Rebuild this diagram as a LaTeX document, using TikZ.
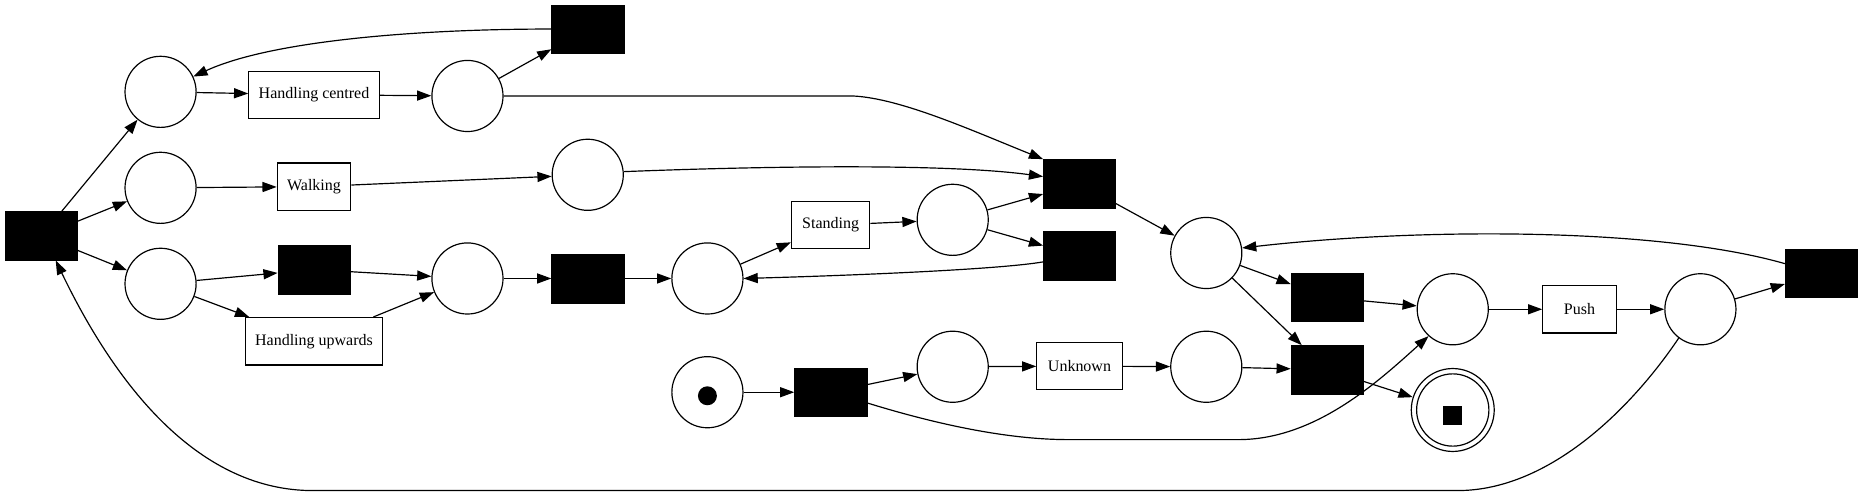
\documentclass[tikz,border=0pt]{standalone}
\usepackage{fontspec}
\setmainfont{Liberation Serif}
\usetikzlibrary{arrows.meta}
\begin{document}
\begin{tikzpicture}[x=1pt,y=-1pt,
  place/.style={circle,draw,line width=1pt,minimum size=60pt,inner sep=0pt},
  blk/.style={rectangle,fill=black,draw=black,minimum width=61pt,minimum height=41pt,inner sep=0pt},
  lab/.style={rectangle,draw,line width=1pt,minimum height=40pt,inner sep=0pt,font=\fontsize{13.5}{15}\selectfont},
  arc/.style={line width=1pt,-{Triangle[length=12pt,width=8.5pt]}},
]
\useasboundingbox (0,0) rectangle (1568,418.5);
% places
\node[place] (P1) at (135.5,77.5) {};
\node[place] (P2) at (135.5,158.5) {};
\node[place] (P3) at (135.5,239.5) {};
\node[place] (P4) at (394.5,81) {};
\node[place] (P5) at (496,147.5) {};
\node[place] (P6) at (394.5,235) {};
\node[place] (P7) at (597,235) {};
\node[place] (P8) at (804,185.5) {};
\node[place] (P9) at (1018,213.5) {};
\node[place] (P10) at (1226,261) {};
\node[place] (P11) at (1435,261) {};
\node[place] (P12) at (597,331) {};
\node[place] (P13) at (804,309.5) {};
\node[place] (P14) at (1018,309.5) {};
\node[place,minimum size=70pt] (Fin) at (1226,346) {};
\node[place,minimum size=61pt] (FinIn) at (1226,346) {};
\node[rectangle,fill=black,minimum size=16pt,inner sep=0pt] (FinTok) at (1226,351) {};
\node[circle,fill=black,minimum size=16pt,inner sep=0pt] (Tok) at (597,334) {};
% transitions
\node[blk] (T0) at (35,199) {};
\node[blk] (Ttop) at (496,24.5) {};
\node[lab,minimum width=110pt] (HC) at (265,80) {Handling centred};
\node[lab,minimum width=62pt] (W) at (265,157.5) {Walking};
\node[blk] (B1) at (265,227.5) {};
\node[lab,minimum width=116pt] (HU) at (265,288) {Handling upwards};
\node[blk] (B2) at (496,235) {};
\node[lab,minimum width=66pt] (St) at (701,190) {Standing};
\node[blk] (A) at (911,155) {};
\node[blk] (D) at (911,216) {};
\node[blk] (E) at (1537,230.5) {};
\node[blk] (F) at (1120,251) {};
\node[blk] (G) at (1120,312) {};
\node[lab,minimum width=62pt] (Push) at (1333,261) {Push};
\node[blk] (H) at (701,331) {};
\node[lab,minimum width=72pt] (Unk) at (911,309) {Unknown};
% arcs
\draw[arc] (T0) -- (P1);
\draw[arc] (T0) -- (P2);
\draw[arc] (T0) -- (P3);
\draw[arc] (P1) -- (HC);
\draw[arc] (HC) -- (P4);
\draw[arc] (P4) -- (Ttop);
\draw[arc] (Ttop.west) .. controls +(-115,0) and +(65,-30) .. (P1.25);
\draw[arc] (P4.east) -- (720,81) .. controls (760,83) and (820,110) .. (A.north west);
\draw[arc] (P2) -- (W);
\draw[arc] (W) -- (P5);
\draw[arc] (P5.5) .. controls (650,140) and (800,138) .. ([yshift=6pt]A.west);
\draw[arc] (P3) -- (B1);
\draw[arc] (P3) -- (HU);
\draw[arc] (B1) -- (P6);
\draw[arc] (HU) -- (P6);
\draw[arc] (P6) -- (B2);
\draw[arc] (B2) -- (P7);
\draw[arc] (P7) -- (St);
\draw[arc] (St) -- (P8);
\draw[arc] (P8) -- (A);
\draw[arc] (P8) -- (D);
\draw[arc] ([yshift=-5pt]D.west) .. controls (840,228) and (700,233) .. (P7.east);
\draw[arc] (A) -- (P9);
\draw[arc] ([yshift=8pt]E.west) .. controls (1400,192) and (1200,192) .. (P9.8);
\draw[arc] (P9) -- (F);
\draw[arc] (P9) -- (G);
\draw[arc] (F) -- (P10);
\draw[arc] (P10) -- (Push);
\draw[arc] (Push) -- (P11);
\draw[arc] (P11) -- (E);
\draw[arc] (P11.233) .. controls (1380,340) and (1310,414) .. (1230,414) -- (264,414) .. controls (170,414) and (100,330) .. ([xshift=12pt]T0.south);
\draw[arc] (P12) -- (H);
\draw[arc] (H) -- (P13);
\draw[arc] (P13) -- (Unk);
\draw[arc] (Unk) -- (P14);
\draw[arc] (P14) -- (G);
\draw[arc] ([yshift=-9pt]H.east) .. controls (790,358) and (850,371) .. (902,371) -- (1045,371) .. controls (1110,371) and (1163,322) .. (P10.228);
\draw[arc] (G) -- (Fin);
\end{tikzpicture}
\end{document}
